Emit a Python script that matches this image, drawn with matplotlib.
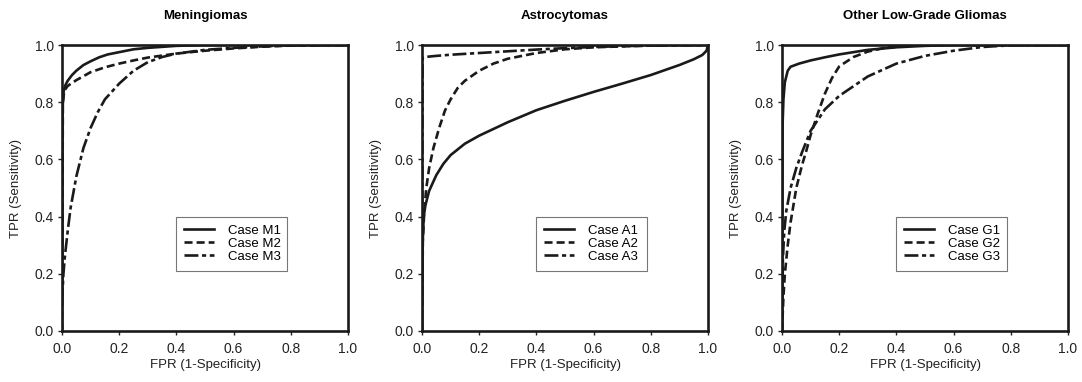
"""ROC curves for three tumour groups (three cases each)."""
import matplotlib
matplotlib.use("Agg")
import matplotlib.pyplot as plt

plt.rcParams["font.family"] = ["Liberation Sans", "DejaVu Sans"]
plt.rcParams["lines.scale_dashes"] = False

titles = ["Meningiomas", "Astrocytomas", "Other Low-Grade Gliomas"]
labels = [["Case M1", "Case M2", "Case M3"],
          ["Case A1", "Case A2", "Case A3"],
          ["Case G1", "Case G2", "Case G3"]]

# ---- Meningiomas
m1_x = [0.0, 0.002, 0.006, 0.012, 0.02, 0.035, 0.05, 0.075, 0.1, 0.13, 0.16,
        0.2, 0.25, 0.3, 0.4, 0.5, 1.0]
m1_y = [0.0, 0.78, 0.84, 0.86, 0.875, 0.895, 0.91, 0.93, 0.943, 0.957, 0.967,
        0.975, 0.985, 0.99, 0.997, 1.0, 1.0]
m2_x = [0.0, 0.003, 0.008, 0.02, 0.05, 0.1, 0.15, 0.2, 0.25, 0.3, 0.4, 0.5,
        0.6, 0.7, 0.8, 1.0]
m2_y = [0.0, 0.80, 0.84, 0.857, 0.877, 0.905, 0.922, 0.935, 0.946, 0.956, 0.97,
        0.98, 0.988, 0.994, 0.998, 1.0]
m3_x = [0.0, 0.005, 0.01, 0.02, 0.03, 0.05, 0.075, 0.1, 0.125, 0.15, 0.2,
        0.25, 0.3, 0.35, 0.4, 0.5, 0.6, 0.7, 0.8, 1.0]
m3_y = [0.1, 0.2, 0.26, 0.35, 0.43, 0.54, 0.64, 0.71, 0.765, 0.81, 0.865,
        0.91, 0.94, 0.958, 0.97, 0.983, 0.99, 0.995, 0.999, 1.0]

# ---- Astrocytomas
a1_x = [0.0, 0.002, 0.006, 0.012, 0.025, 0.05, 0.075, 0.1, 0.15, 0.2, 0.3,
        0.4, 0.5, 0.6, 0.7, 0.8, 0.9, 0.95, 0.98, 0.995, 1.0]
a1_y = [0.0, 0.3, 0.4, 0.44, 0.49, 0.545, 0.585, 0.615, 0.655, 0.683, 0.73,
        0.772, 0.805, 0.836, 0.865, 0.895, 0.93, 0.95, 0.965, 0.98, 1.0]
a2_x = [0.0, 0.003, 0.008, 0.015, 0.025, 0.04, 0.06, 0.08, 0.1, 0.125, 0.15,
        0.2, 0.25, 0.3, 0.4, 0.5, 0.6, 0.8, 1.0]
a2_y = [0.0, 0.32, 0.42, 0.5, 0.57, 0.64, 0.71, 0.77, 0.81, 0.85, 0.875,
        0.91, 0.935, 0.952, 0.972, 0.985, 0.992, 0.998, 1.0]
a3_x = [0.0, 0.002, 0.01, 0.05, 0.1, 0.2, 0.3, 0.4, 0.5, 0.6, 0.7, 0.8,
        0.9, 1.0]
a3_y = [0.0, 0.955, 0.958, 0.962, 0.966, 0.972, 0.978, 0.984, 0.989, 0.993,
        0.996, 0.998, 0.999, 1.0]

# ---- Other low-grade gliomas
g1_x = [0.0, 0.002, 0.005, 0.01, 0.02, 0.03, 0.06, 0.1, 0.15, 0.2, 0.25,
        0.3, 0.4, 0.5, 0.6, 1.0]
g1_y = [0.0, 0.72, 0.81, 0.87, 0.91, 0.924, 0.935, 0.946, 0.957, 0.967,
        0.975, 0.983, 0.992, 0.997, 1.0, 1.0]
g2_x = [0.0, 0.005, 0.01, 0.02, 0.03, 0.05, 0.07, 0.085, 0.1, 0.125, 0.15,
        0.175, 0.2, 0.25, 0.3, 0.35, 0.4, 0.5, 1.0]
g2_y = [0.0, 0.12, 0.2, 0.3, 0.38, 0.5, 0.58, 0.63, 0.685, 0.76, 0.83, 0.885,
        0.925, 0.958, 0.977, 0.988, 0.994, 1.0, 1.0]
g3_x = [0.0, 0.003, 0.008, 0.015, 0.03, 0.05, 0.07, 0.1, 0.15, 0.2, 0.3,
        0.4, 0.5, 0.6, 0.7, 0.8, 1.0]
g3_y = [0.0, 0.25, 0.35, 0.42, 0.5, 0.57, 0.625, 0.7, 0.775, 0.822, 0.89,
        0.935, 0.962, 0.98, 0.993, 0.999, 1.0]

curves = [[(m1_x, m1_y), (m2_x, m2_y), (m3_x, m3_y)],
          [(a1_x, a1_y), (a2_x, a2_y), (a3_x, a3_y)],
          [(g1_x, g1_y), (g2_x, g2_y), (g3_x, g3_y)]]

styles = [dict(linestyle="-"),
          dict(linestyle=(0, (5.8, 2.9))),
          dict(linestyle=(0, (10, 2.6, 3, 2.6)))]

W, H = 1082, 382
fig = plt.figure(figsize=(W / 100, H / 100), dpi=100)
lefts = [62, 422, 782]
ticks = [0, 0.2, 0.4, 0.6, 0.8, 1.0]
for k, left in enumerate(lefts):
    ax = fig.add_axes([left / W, 51 / H, 286 / W, 286 / H])
    for (x, y), st, lab in zip(curves[k], styles, labels[k]):
        ax.plot(x, y, color="#1a1a1a", lw=1.9, label=lab, **st)
    ax.set_xlim(0, 1)
    ax.set_ylim(0, 1)
    ax.set_xticks(ticks)
    ax.set_yticks(ticks)
    ax.set_xticklabels([f"{v:.1f}" for v in ticks])
    ax.set_yticklabels([f"{v:.1f}" for v in ticks])
    ax.tick_params(direction="out", length=3, width=1, labelsize=10,
                   colors="#222222")
    ax.tick_params(axis="x", pad=5)
    ax.tick_params(axis="y", pad=3)
    for sp in ax.spines.values():
        sp.set_linewidth(1.9)
        sp.set_color("#1a1a1a")
    ax.set_xlabel("FPR (1-Specificity)", fontsize=9.5, color="#222222",
                  labelpad=2)
    ax.set_ylabel("TPR (Sensitivity)", fontsize=9.5, color="#222222",
                  labelpad=9)
    ax.set_title(titles[k], fontsize=9.5, fontweight="bold", pad=19)
    leg = ax.legend(loc="upper left",
                    bbox_to_anchor=(0.399, 0.217, 0.388, 0.182),
                    mode="expand", fontsize=9.5, frameon=True, fancybox=False,
                    handlelength=2.3, handletextpad=1.0, borderpad=0.6,
                    labelspacing=0.05, borderaxespad=0)
    leg.get_frame().set_edgecolor("#555555")
    leg.get_frame().set_linewidth(0.8)

plt.savefig("out.png", dpi=100)
